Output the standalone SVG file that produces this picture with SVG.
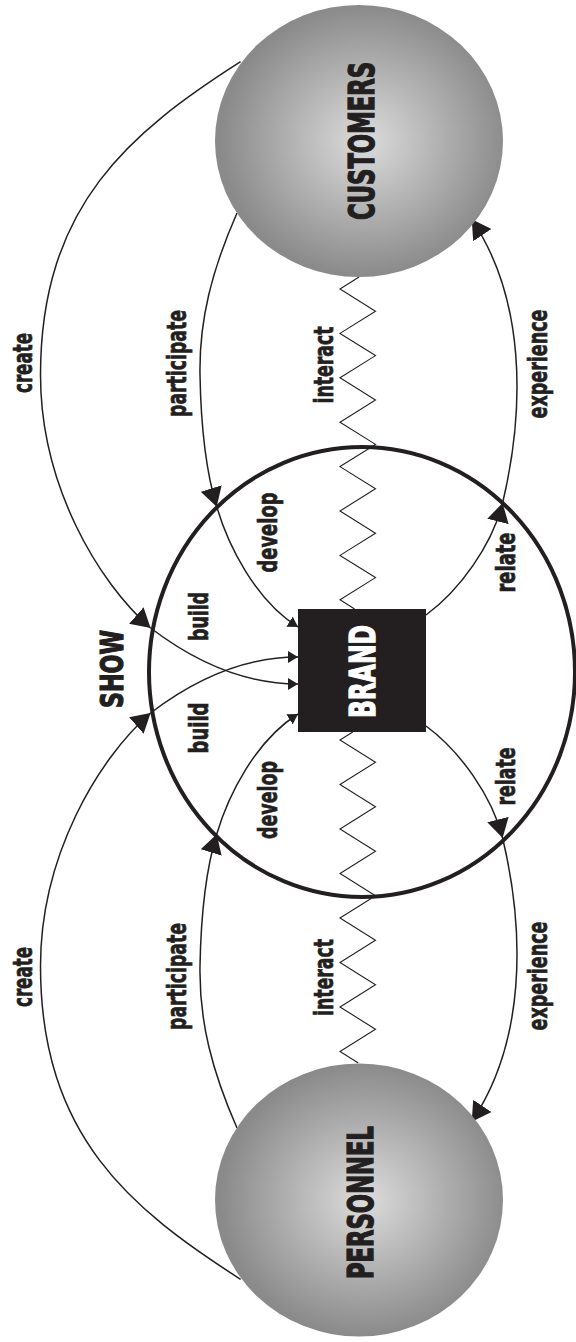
<svg xmlns="http://www.w3.org/2000/svg" width="576" height="1342" viewBox="0 0 576 1342">
<style>
.ln{fill:none;stroke:#231f20;stroke-width:1.5}
.zz{fill:none;stroke:#231f20;stroke-width:1.1;stroke-linejoin:miter}
.lbl{font-family:'Liberation Sans Narrow','DejaVu Sans Condensed','DejaVu Sans',sans-serif;font-weight:bold;fill:#231f20;text-anchor:middle;stroke:#231f20;stroke-width:0.7}
.sm{font-size:26px}
.big{font-size:36px;stroke-width:1.3}
</style>
<defs>
<radialGradient id="ball" cx="52%" cy="50%" r="50%">
<stop offset="0" stop-color="#dcdcdc"/>
<stop offset="1" stop-color="#8a8a8a"/>
</radialGradient>
<marker id="ah" viewBox="0 0 19 22" refX="19" refY="11" markerWidth="19" markerHeight="22" markerUnits="userSpaceOnUse" orient="auto">
<path d="M0 0 L19 11 L0 22 Z" fill="#231f20"/>
</marker>
<marker id="ahs" viewBox="0 0 10 12" refX="10" refY="6" markerWidth="10" markerHeight="12" markerUnits="userSpaceOnUse" orient="auto">
<path d="M0 0 L10 6 L0 12 Z" fill="#231f20"/>
</marker>
</defs>
<rect width="576" height="1342" fill="#ffffff"/>
<g id="show">
<ellipse cx="362" cy="672" rx="213" ry="225" fill="none" stroke="#231f20" stroke-width="4"/>
<text class="lbl" font-size="32" style="stroke-width:1.2" transform="translate(123 669) rotate(-90)" textLength="78" lengthAdjust="spacingAndGlyphs">SHOW</text>
</g>
<g id="connectors">
<path class="zz" d="M359 277 L340 289 L375.5 311.2 L340 333.4 L375.5 355.6 L340 377.8 L375.5 400 L340 422.2 L375.5 444.4 L340 466.6 L375.5 488.8 L340 511 L375.5 533.2 L340 555.4 L375.5 577.6 L340 599.8 L354.6 609"/>
<path class="zz" d="M352.8 732 L340 740 L375.5 762.25 L340 784.5 L375.5 806.75 L340 829 L375.5 851.25 L340 873.5 L375.5 895.75 L340 918 L375.5 940.25 L340 962.5 L375.5 984.75 L340 1007 L375.5 1029.25 L340 1051.5 L358.3 1063"/>
<path class="ln" d="M240.6 61.7 C131 131.8 40.5 205 40.5 375 C40.5 485 98 582 150.6 628" marker-end="url(#ah)"/>
<path class="ln" d="M150.6 628 C190 658 240 684 298 684" marker-end="url(#ahs)"/>
<path class="ln" d="M240.6 1279.3 C131 1209.2 40.5 1136 40.5 966 C40.5 856 98 759 150.6 713" marker-end="url(#ah)"/>
<path class="ln" d="M150.6 713 C190 683 240 657 298 657" marker-end="url(#ahs)"/>
<path class="ln" d="M237 213 C212 270 199 320 200 375 C201 430 207 475 216.7 506.7" marker-end="url(#ah)"/>
<path class="ln" d="M216.7 506.7 C228 545 255 600 298 627" marker-end="url(#ahs)"/>
<path class="ln" d="M237 1128 C212 1071 199 1021 200 966 C201 911 207 866 216.7 834.3" marker-end="url(#ah)"/>
<path class="ln" d="M216.7 834.3 C228 796 255 741 298 714" marker-end="url(#ahs)"/>
<path class="ln" d="M426 615 C460 590 492 545 502.6 503" marker-end="url(#ah)"/>
<path class="ln" d="M502.6 503 C525.6 406 524.9 298.2 471.7 219.3" marker-end="url(#ah)"/>
<path class="ln" d="M426 726 C460 751 492 796 502.6 838" marker-end="url(#ah)"/>
<path class="ln" d="M502.6 838 C525.6 935 524.9 1042.8 471.7 1121.7" marker-end="url(#ah)"/>
<text class="lbl sm" transform="translate(31.7 363) rotate(-90)" textLength="60" lengthAdjust="spacingAndGlyphs">create</text>
<text class="lbl sm" transform="translate(31.7 977) rotate(-90)" textLength="60" lengthAdjust="spacingAndGlyphs">create</text>
<text class="lbl sm" transform="translate(186 363.5) rotate(-90)" textLength="107" lengthAdjust="spacingAndGlyphs">participate</text>
<text class="lbl sm" transform="translate(186 976.5) rotate(-90)" textLength="107" lengthAdjust="spacingAndGlyphs">participate</text>
<text class="lbl sm" transform="translate(332.7 365) rotate(-90)" textLength="77" lengthAdjust="spacingAndGlyphs">interact</text>
<text class="lbl sm" transform="translate(332.7 977.5) rotate(-90)" textLength="77" lengthAdjust="spacingAndGlyphs">interact</text>
<text class="lbl sm" transform="translate(547 364) rotate(-90)" textLength="109" lengthAdjust="spacingAndGlyphs">experience</text>
<text class="lbl sm" transform="translate(547 976) rotate(-90)" textLength="109" lengthAdjust="spacingAndGlyphs">experience</text>
<text class="lbl sm" transform="translate(277 532.5) rotate(-90)" textLength="80" lengthAdjust="spacingAndGlyphs">develop</text>
<text class="lbl sm" transform="translate(277 800) rotate(-90)" textLength="78" lengthAdjust="spacingAndGlyphs">develop</text>
<text class="lbl sm" transform="translate(515 562.5) rotate(-90)" textLength="60" lengthAdjust="spacingAndGlyphs">relate</text>
<text class="lbl sm" transform="translate(515 776.5) rotate(-90)" textLength="58" lengthAdjust="spacingAndGlyphs">relate</text>
<text class="lbl sm" transform="translate(208 616.5) rotate(-90)" textLength="49" lengthAdjust="spacingAndGlyphs">build</text>
<text class="lbl sm" transform="translate(208 728) rotate(-90)" textLength="51" lengthAdjust="spacingAndGlyphs">build</text>
</g>
<g id="customers">
<ellipse cx="359" cy="141" rx="144" ry="136" fill="url(#ball)"/>
<text class="lbl big" transform="translate(374 141) rotate(-90)" textLength="158" lengthAdjust="spacingAndGlyphs">CUSTOMERS</text>
</g>
<g id="personnel">
<ellipse cx="359" cy="1200" rx="144" ry="136.5" fill="url(#ball)"/>
<text class="lbl big" transform="translate(373 1202.5) rotate(-90)" textLength="153" lengthAdjust="spacingAndGlyphs">PERSONNEL</text>
</g>
<g id="brand">
<rect x="298" y="609" width="128" height="123" fill="#231f20"/>
<text class="lbl big" style="fill:#ffffff;stroke:#ffffff" transform="translate(375 671.5) rotate(-90)" textLength="93" lengthAdjust="spacingAndGlyphs">BRAND</text>
</g>
</svg>
